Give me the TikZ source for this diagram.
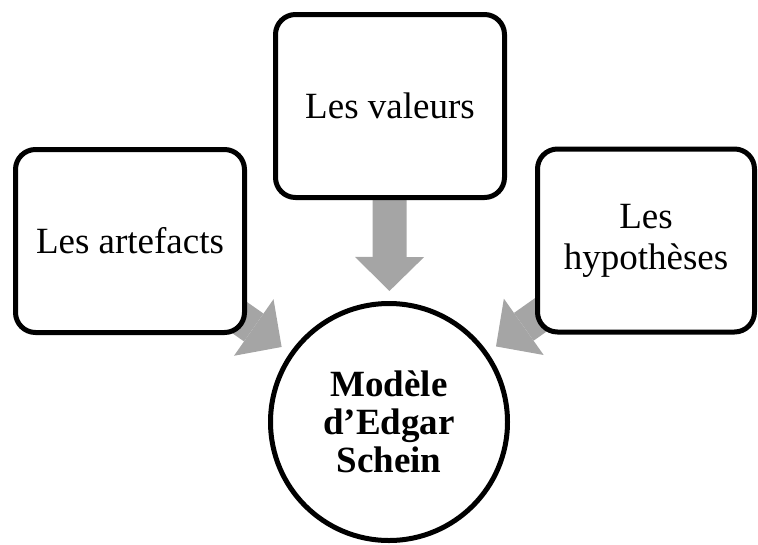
\documentclass[tikz,border=0pt]{standalone}
\usepackage{fontspec}
\setmainfont{Liberation Serif}
\usetikzlibrary{arrows.meta,backgrounds}
\definecolor{arrowgray}{HTML}{A5A5A5}
\begin{document}
\begin{tikzpicture}[x=1pt,y=-1pt]
	\tikzstyle{box}=[draw=black,line width=5pt,rounded corners=20pt,fill=white,minimum width=229pt,minimum height=183pt,inner sep=0pt,align=center,font=\fontsize{37}{41}\selectfont]
	\tikzstyle{bigarrow}=[draw=arrowgray,line width=34pt,shorten >=10pt,-{Triangle[length=34pt,width=69pt,line width=0pt]}]
	\useasboundingbox (0,0) rectangle (758,544);
	\node[box](valeurs) at (390,106) {Les valeurs};
	\node[box](artefacts) at (130,241) {Les artefacts};
	\node[box,minimum width=217pt](hypotheses) at (646,240.5) {Les\\hypothèses};
	\node[circle,draw=black,line width=5pt,fill=white,minimum size=237pt,inner sep=0pt,align=center,font=\fontsize{37}{38}\selectfont\bfseries](modele) at (389,422) {Modèle\\d’Edgar\\Schein};
	\begin{scope}[on background layer]
		\draw[bigarrow](valeurs.center) -- (modele);
		\draw[bigarrow](artefacts.center) -- (modele);
		\draw[bigarrow](hypotheses.center) -- (modele);
	\end{scope}
\end{tikzpicture}
\end{document}
